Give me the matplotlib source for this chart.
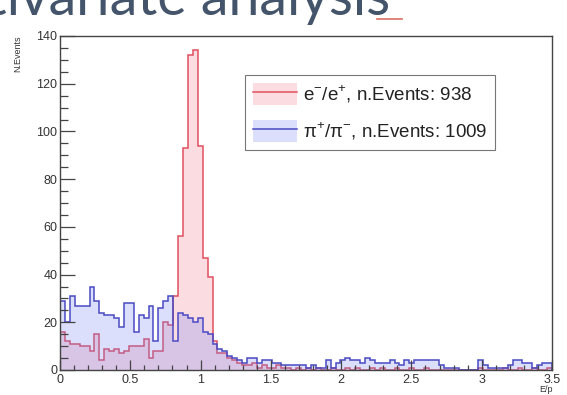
import numpy as np
import matplotlib.pyplot as plt
from matplotlib.patches import Patch
from matplotlib.lines import Line2D
from matplotlib.ticker import MultipleLocator

plt.rcParams['font.family'] = ['Liberation Sans', 'DejaVu Sans']
plt.rcParams['mathtext.fontset'] = 'custom'
plt.rcParams['mathtext.rm'] = 'Liberation Sans'

# E/p histograms, 100 bins from 0 to 3.5
edges = np.linspace(0.0, 3.5, 101)

ele_counts = [16, 12, 11, 11, 10, 10, 8, 15, 4, 9,
              8, 9, 7, 8, 10, 10, 10, 13, 5, 8,
              8, 20, 19, 31, 56, 93, 132, 134, 94, 47,
              39, 12, 7, 7, 5, 4, 3, 2, 2, 3,
              1, 2, 1, 1, 2, 1, 1, 0, 1, 0,
              1, 0, 1, 0, 0, 1, 0, 0, 1, 0,
              1, 0, 0, 1, 0, 1, 0, 0, 1, 0,
              0, 1, 0, 0, 1, 0, 0, 0, 0, 0,
              0, 0, 0, 0, 0, 1, 0, 0, 0, 0,
              1, 0, 0, 1, 0, 0, 1, 0, 0, 1]

pion_counts = [29, 20, 31, 27, 27, 27, 35, 29, 24, 23,
               23, 22, 18, 28, 28, 16, 23, 22, 27, 12,
               26, 29, 31, 12, 24, 23, 22, 20, 22, 16,
               15, 11, 9, 8, 6, 5, 4, 3, 5, 5,
               3, 4, 4, 3, 3, 2, 2, 2, 2, 2,
               1, 2, 1, 1, 4, 1, 3, 4, 5, 4,
               4, 3, 5, 4, 3, 3, 3, 4, 3, 2,
               4, 3, 4, 4, 4, 4, 4, 2, 1, 1,
               1, 0, 0, 0, 0, 4, 2, 1, 1, 1,
               1, 2, 4, 4, 3, 3, 1, 2, 3, 3]

ele_label = r"e$^{-}$/e$^{+}$, n.Events: 938"
pion_label = r"π$^{+}$/π$^{-}$, n.Events: 1009"

x_ticks = [0, 0.5, 1, 1.5, 2, 2.5, 3, 3.5]
x_tick_labels = ['0', '0.5', '1', '1.5', '2', '2.5', '3', '3.5']
y_ticks = [0, 20, 40, 60, 80, 100, 120, 140]

red_line = '#e0505f'
red_fill = (0.95, 0.55, 0.60, 0.30)
blue_line = '#4a4ac4'
blue_fill = (0.45, 0.50, 0.95, 0.25)
axis_col = '#444444'

W, H = 567, 395
fig = plt.figure(figsize=(W / 100, H / 100), dpi=100)
ax = fig.add_axes([60 / W, 1 - 370 / H, 492 / W, 334 / H])

ax.stairs(ele_counts, edges, fill=True, color=red_fill, linewidth=0)
ax.stairs(ele_counts, edges, baseline=0, color=red_line, linewidth=1.1)
ax.stairs(pion_counts, edges, fill=True, color=blue_fill, linewidth=0)
ax.stairs(pion_counts, edges, baseline=0, color=blue_line, linewidth=1.1)

ax.set_xlim(0, 3.5)
ax.set_ylim(0, 140)
ax.set_xticks(x_ticks)
ax.set_xticklabels(x_tick_labels)
ax.set_yticks(y_ticks)
ax.xaxis.set_minor_locator(MultipleLocator(0.1))
ax.yaxis.set_minor_locator(MultipleLocator(5))
ax.tick_params(which='both', direction='in', top=False, right=False,
               color=axis_col, labelcolor='#333333', labelsize=9, width=0.9)
ax.tick_params(axis='x', which='major', length=7.2, pad=3)
ax.tick_params(axis='x', which='minor', length=3.6)
ax.tick_params(axis='y', which='major', length=10.8, pad=2)
ax.tick_params(axis='y', which='minor', length=5.4)
for sp in ax.spines.values():
    sp.set_color(axis_col)
    sp.set_linewidth(1.0)

# ROOT-style axis titles at the axis ends
fig.text(553 / W, 1 - 385 / H, 'E/p', ha='right', va='top',
         fontsize=6.5, color='#333333')
ax.text(-0.085, 1.0, 'N.Events', transform=ax.transAxes, ha='center', va='top',
        rotation=90, fontsize=6.5, color='#333333')

handles = [(Patch(facecolor=red_fill, edgecolor='none'), Line2D([], [], color=red_line, lw=1.1)),
           (Patch(facecolor=blue_fill, edgecolor='none'), Line2D([], [], color=blue_line, lw=1.1))]
leg = ax.legend(handles, [ele_label, pion_label], loc='upper left',
                bbox_to_anchor=(0.376, 0.883), fontsize=13.5,
                handlelength=2.35, handleheight=1.44, handletextpad=0.3,
                labelspacing=0.8, borderpad=0.43, borderaxespad=0,
                fancybox=False, framealpha=1, edgecolor='#777777')
leg.get_frame().set_linewidth(0.8)
for t in leg.get_texts():
    t.set_color('#222222')

ax.text(307, 279, 'E/p', transform=None, fontsize=28, family='Lato',
        color='black', ha='left', va='baseline')

# slide heading, partly cut off at the top edge
fig.text(390 / W, 1 - 15 / H, 'Multivariate analysis', fontsize=40,
         family='Lato', color='#44546A', ha='right', va='baseline')
fig.add_artist(Line2D([377 / W, 402 / W], [1 - 19 / H, 1 - 19 / H],
                      color='#d24a3a', lw=1.2, alpha=0.8))

fig.savefig('out.png', dpi=100)
